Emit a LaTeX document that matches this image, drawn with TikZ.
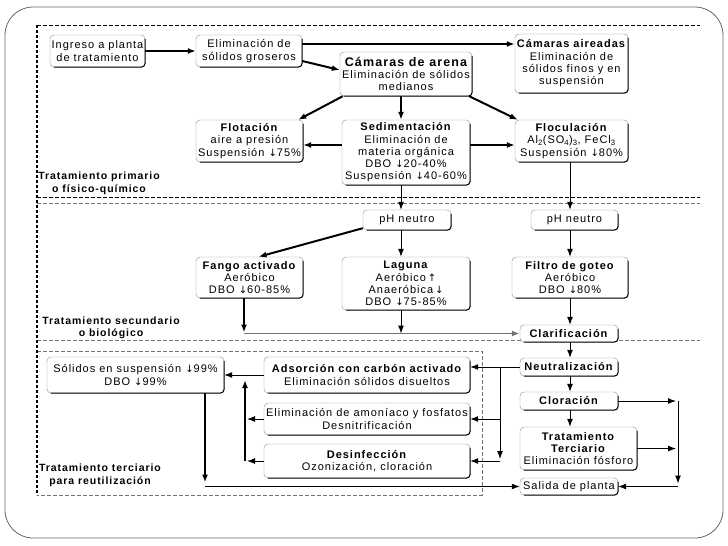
\documentclass[tikz,border=0pt]{standalone}
\usepackage{fontspec}
\setmainfont{Liberation Sans}[LetterSpace=9]
\newfontfamily\arwfont{DejaVu Sans}
\newcommand\dn{{\arwfont\fontsize{10}{12}\selectfont ↓}}
\newcommand\up{{\arwfont\fontsize{10}{12}\selectfont ↑}}
\usetikzlibrary{arrows.meta,calc}
\tikzset{
  bx/.style={draw=black!45, fill=white, rounded corners=4pt, align=center, inner sep=1pt,
    font=\fontsize{11}{12.3}\selectfont},
  arr/.style={-{Latex[length=8pt,width=6pt]}, line width=1pt},
  thk/.style={line width=2pt},
  lbl/.style={font=\bfseries\fontsize{10.5}{12.6}\selectfont, align=center},
  dsh/.style={dash pattern=on 4pt off 2pt, line width=0.8pt},
  gdsh/.style={dash pattern=on 4pt off 2pt, line width=0.6pt, black!55},
}
\newcommand\shedge[1]{\draw[line width=1pt, rounded corners=4pt] ([yshift=-4pt]#1.north east) -- (#1.south east) -- ([xshift=4pt]#1.south west);}
\begin{document}
\begin{tikzpicture}[x=1pt,y=-1pt]
\useasboundingbox (0,0) rectangle (728,546);
% outer frame
\draw[black!60, line width=0.8pt, rounded corners=28pt] (5,7) rectangle (723,538);
% regions
\draw[dsh] (37,25) -- (700,25);
\draw[dsh] (37,197) -- (700,197);
\draw[gdsh] (37,203) -- (700,203);
\draw[gdsh] (37,340) -- (700,340);
\draw[gdsh] (37,351) -- (482,351) -- (482,495) -- (37,495);
\draw[line width=1.6pt, dash pattern=on 3pt off 2pt] (37,25) -- (37,495);
% region labels
\node[lbl] (lp) at (99,183) {Tratamiento primario\\o físico-químico};
\node[lbl] (ls) at (111,328) {Tratamiento secundario\\o biológico};
\node[lbl] (lt) at (100,475) {Tratamiento terciario\\para reutilización};
% nodes
\node[bx, minimum width=95pt, minimum height=32pt] (ing) at (97.5,51) {Ingreso a planta\\de tratamiento};
\node[bx, minimum width=106pt, minimum height=32pt] (gro) at (249,51) {Eliminación de\\sólidos groseros};
\node[bx, minimum width=132pt, minimum height=44pt] (ca) at (406,74) {{\bfseries\fontsize{12.5}{13}\selectfont Cámaras de arena}\\Eliminación de sólidos\\medianos};
\node[bx, minimum width=113pt, minimum height=59pt] (ai) at (571.5,63.5) {\textbf{Cámaras aireadas}\\Eliminación de\\sólidos finos y en\\suspensión};
\node[bx, minimum width=107pt, minimum height=42pt] (flo) at (249.5,141) {\textbf{Flotación}\\aire a presión\\Suspensión \dn75\%};
\node[bx, minimum width=128pt, minimum height=65pt] (sed) at (406,152.5) {\textbf{Sedimentación}\\Eliminación de\\materia orgánica\\DBO \dn20-40\%\\Suspensión \dn40-60\%};
\node[bx, minimum width=113pt, minimum height=42pt] (flc) at (571.5,141) {\textbf{Floculación}\\Al\textsubscript{2}(SO\textsubscript{4})\textsubscript{3}, FeCl\textsubscript{3}\\Suspensión \dn80\%};
\node[bx, minimum width=88pt, minimum height=20pt] (ph1) at (407,220) {pH neutro};
\node[bx, minimum width=87pt, minimum height=20pt] (ph2) at (574.5,220) {pH neutro};
\node[bx, minimum width=107pt, minimum height=41pt] (fan) at (249.5,277.5) {\textbf{Fango activado}\\Aeróbico\\DBO \dn60-85\%};
\node[bx, minimum width=128pt, minimum height=53pt] (lag) at (406,283.5) {\textbf{Laguna}\\Aeróbico\,\up\\Anaeróbica\,\dn\\DBO \dn75-85\%};
\node[bx, minimum width=116pt, minimum height=41pt] (fil) at (570,277.5) {\textbf{Filtro de goteo}\\Aeróbico\\DBO \dn80\%};
\node[bx, minimum width=98pt, minimum height=17pt] (cla) at (569,333.5) {\textbf{Clarificación}};
\node[bx, minimum width=98pt, minimum height=18pt] (neu) at (569,367) {\textbf{Neutralización}};
\node[bx, minimum width=98pt, minimum height=18pt] (clo) at (569,401) {\textbf{Cloración}};
\node[bx, minimum width=117pt, minimum height=43pt] (tt) at (578.5,448.5) {\textbf{Tratamiento}\\\textbf{Terciario}\\Eliminación fósforo};
\node[bx, minimum width=98pt, minimum height=17pt] (sal) at (569,486.5) {Salida de planta};
\node[bx, minimum width=177pt, minimum height=36pt] (sol) at (135.5,375) {Sólidos en suspensión \dn99\%\\DBO \dn99\%};
\node[bx, minimum width=206pt, minimum height=36pt] (ads) at (367,375) {\textbf{Adsorción con carbón activado}\\Eliminación sólidos disueltos};
\node[bx, minimum width=206pt, minimum height=32pt] (elm) at (367,419) {Eliminación de amoníaco y fosfatos\\Desnitrificación};
\node[bx, minimum width=206pt, minimum height=34pt] (des) at (367,461) {\textbf{Desinfección}\\Ozonización, cloración};
\foreach \n in {ing,gro,ca,ai,flo,sed,flc,ph1,ph2,fan,lag,fil,cla,neu,clo,tt,sal,sol,ads,elm,des} {\shedge{\n}}
% junction coordinates
\coordinate (jf) at (244,0 |- cla.west);
\coordinate (jn) at (500,0 |- neu.west);
\coordinate (jr) at (678,0 |- clo.east);
\coordinate (jv) at (245,0 |- des.west);
\coordinate (js) at (205,0 |- sal.west);
% primary connectors
\draw[arr,thk] (ing) -- (gro);
\draw[arr,thk] (gro.east |- 0,44) -- (ai.west |- 0,44);
\draw[arr,thk] (gro.east |- 0,61) -- (ca.west |- 0,70);
\draw[arr,thk] ([xshift=3pt]ca.south west) -- ([xshift=-5pt]flo.north east);
\draw[arr,thk] (ca.south -| 401,0) -- (sed.north -| 401,0);
\draw[arr,thk] ([xshift=-3pt]ca.south east) -- ([xshift=3pt]flc.north west);
\draw[arr,thk] (sed.west |- 0,145) -- (flo.east |- 0,145);
\draw[arr,thk] (sed.east |- 0,145) -- (flc.west |- 0,145);
\draw[arr] (sed.south -| 401,0) -- (ph1.north -| 401,0);
\draw[arr] (flc.south -| 570,0) -- (ph2.north -| 570,0);
% secondary connectors
\draw[arr,thk] ([yshift=2pt]ph1.south west) -- ([xshift=9pt]fan.north);
\draw[arr] (ph1.south -| 401,0) -- (lag.north -| 401,0);
\draw[arr] (ph2.south -| 570,0) -- (fil.north -| 570,0);
\draw[arr,thk] (fan.south -| jf) -- ([yshift=1pt]jf);
\draw[arr, black!55, line width=1.6pt] (jf) -- (cla.west);
\draw[arr] (lag.south -| 401,0) -- (401,0 |- jf);
\draw[arr] (fil.south -| 570,0) -- (cla.north -| 570,0);
\draw[arr] (cla.south -| 570,0) -- (neu.north -| 570,0);
% tertiary connectors
\draw[arr] (neu.west) -- (ads.east |- neu.west);
\draw[arr] (jn) -- ([yshift=2pt]jn |- des.east);
\draw[arr] (jn |- elm.east) -- (elm.east);
\draw[arr] (jn |- des.east) -- (des.east);
\draw[arr] (neu.south -| 570,0) -- (clo.north -| 570,0);
\draw[arr] (clo.south -| 570,0) -- (tt.north -| 570,0);
\draw[arr] (clo.east) -- ([xshift=-2pt]jr);
\draw[arr] (tt.east) -- ([xshift=-2pt]jr |- tt.east);
\draw[arr] (jr) -- ([yshift=3pt]jr |- sal.east);
\draw[arr] (jr |- sal.east) -- (sal.east);
\draw[arr] (ads.west) -- (sol.east |- ads.west);
\draw[arr,thk] (jv) -- ([yshift=-5pt]jv |- ads.west);
\draw[arr] (elm.west) -- ([xshift=2pt]jv |- elm.west);
\draw[arr] (des.west) -- ([xshift=2pt]jv);
\draw[arr,thk] (sol.south -| js) -- ([yshift=4pt]js);
\draw[arr] (js) -- (sal.west);
\end{tikzpicture}
\end{document}
